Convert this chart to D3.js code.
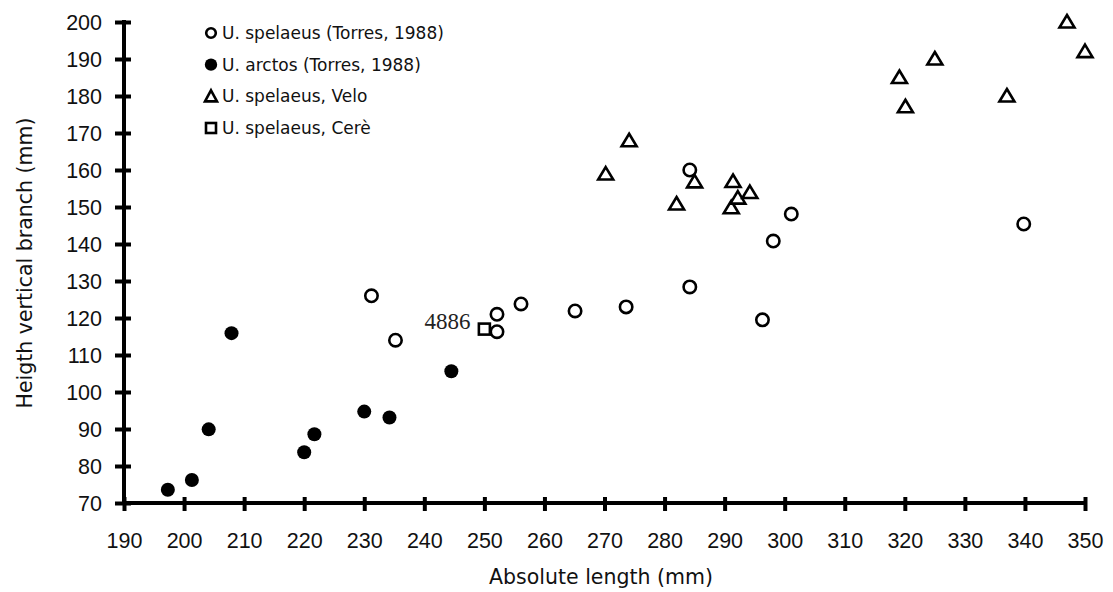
<!doctype html>
<html>
  <head>
    <script src="https://cdnjs.cloudflare.com/ajax/libs/d3/7.8.5/d3.min.js"></script>
    <style>
      body { margin: 0; background: #fff; }
      svg { font-family: "DejaVu Sans", Verdana, sans-serif; }
      .axis path, .axis line { stroke: #000; stroke-width: 4; }
      .axis text { font-size: 21.5px; fill: #111; }
      .title { font-size: 20.5px; fill: #111; }
      .legend text { font-size: 17px; fill: #111; }
      .open { fill: #fff; stroke: #000; stroke-width: 2.6; }
      .filled { fill: #000; }
    </style>
  </head>
  <body>
    <svg width="1113" height="592"></svg>
    <script>
      // U. spelaeus (Torres, 1988)
      var spelaeusTorres = [
        [231.2, 126], [235.2, 114], [252.1, 121], [252.1, 116.3], [256.1, 123.8],
        [265.1, 121.9], [273.6, 123], [284.2, 128.4], [284.2, 160], [296.3, 119.5],
        [298.1, 140.8], [301.1, 148.1], [339.8, 145.4]
      ];
      // U. arctos (Torres, 1988)
      var arctosTorres = [
        [197.3, 73.6], [201.3, 76.2], [204.1, 89.9], [207.9, 115.9], [220, 83.7],
        [221.7, 88.6], [230, 94.7], [234.2, 93.1], [244.5, 105.6]
      ];
      // U. spelaeus, Velo
      var spelaeusVelo = [
        [270.2, 158.9], [274.1, 167.9], [282, 150.8], [285, 156.8], [291.1, 149.8],
        [291.4, 156.9], [292.2, 152.4], [294.2, 153.9], [319.1, 185], [320.1, 177.1],
        [325, 190], [337, 180], [347, 200], [350, 192]
      ];
      // U. spelaeus, Cerè
      var spelaeusCere = [[250, 117]];
      var cereLabel = "4886";

      var legendLabels = ["U. spelaeus (Torres, 1988)", "U. arctos (Torres, 1988)", "U. spelaeus, Velo", "U. spelaeus, Cerè"];
      var xTicks = d3.range(190, 351, 10);
      var yTicks = d3.range(70, 201, 10);

      var svg = d3.select("svg");
      var x = d3.scaleLinear().domain([190, 350]).range([124, 1085]);
      var y = d3.scaleLinear().domain([70, 200]).range([503, 22]);

      var xAxis = d3.axisBottom(x).tickValues(xTicks).tickSize(0).tickPadding(30);
      var yAxis = d3.axisLeft(y).tickValues(yTicks).tickSize(0).tickPadding(22);

      var gx = svg.append("g").attr("class", "axis").attr("transform", "translate(0," + y(70) + ")").call(xAxis);
      var gy = svg.append("g").attr("class", "axis").attr("transform", "translate(" + x(190) + ",0)").call(yAxis);
      gx.select(".domain").attr("d", "M" + (x(190) - 2) + ",0H" + (x(350) + 2));
      gy.select(".domain").attr("d", "M0," + (y(200) - 2) + "V" + (y(70) + 2));
      gx.selectAll(".tick line").attr("y1", -6).attr("y2", 8).attr("stroke-width", 3.5);
      gy.selectAll(".tick line").attr("x1", -9).attr("x2", 7).attr("stroke-width", 3.5);
      gx.selectAll("text").attr("dy", "0.71em");
      gy.selectAll("text").attr("dy", "0.36em");

      svg.append("text").attr("class", "title")
          .attr("x", 601).attr("y", 584).attr("text-anchor", "middle")
          .text("Absolute length (mm)");
      svg.append("text").attr("class", "title")
          .attr("transform", "translate(32,263) rotate(-90)")
          .attr("text-anchor", "middle")
          .text("Heigth vertical branch (mm)");

      var tri = d => "M0,-7L7.5,5.5L-7.5,5.5Z";

      var plot = svg.append("g");
      plot.selectAll("circle.o").data(spelaeusTorres).enter().append("circle")
          .attr("class", "open").attr("r", 6.2)
          .attr("cx", d => x(d[0])).attr("cy", d => y(d[1]));
      plot.selectAll("circle.f").data(arctosTorres).enter().append("circle")
          .attr("class", "filled").attr("r", 7)
          .attr("cx", d => x(d[0])).attr("cy", d => y(d[1]));
      plot.selectAll("path.t").data(spelaeusVelo).enter().append("path")
          .attr("class", "open").attr("d", tri)
          .attr("transform", d => "translate(" + x(d[0]) + "," + y(d[1]) + ")");
      plot.selectAll("rect.s").data(spelaeusCere).enter().append("rect")
          .attr("class", "open").attr("width", 11).attr("height", 11)
          .attr("x", d => x(d[0]) - 5.5).attr("y", d => y(d[1]) - 5.5);
      plot.selectAll("text.lab").data(spelaeusCere).enter().append("text")
          .attr("x", d => x(d[0]) - 14).attr("y", d => y(d[1]) - 0.5)
          .attr("text-anchor", "end")
          .style("font-family", "'Liberation Serif', 'Times New Roman', serif")
          .style("font-size", "23px").attr("fill", "#222")
          .text(cereLabel);

      var legend = svg.append("g").attr("class", "legend");
      var ly = d3.scalePoint().domain(legendLabels).range([33, 128]);
      legendLabels.forEach(function (lab, i) {
        var g = legend.append("g").attr("transform", "translate(211," + ly(lab) + ")");
        if (i === 0) g.append("circle").attr("class", "open").attr("r", 4.8).attr("stroke-width", 2.2);
        if (i === 1) g.append("circle").attr("class", "filled").attr("r", 6.2);
        if (i === 2) g.append("path").attr("class", "open").attr("d", "M0,-6L6,5L-6,5Z").attr("stroke-width", 2.2);
        if (i === 3) g.append("rect").attr("class", "open").attr("x", -5).attr("y", -5).attr("width", 10).attr("height", 10).attr("stroke-width", 2.2);
        g.append("text").attr("x", 11).attr("dy", "0.36em").text(lab);
      });
    </script>
  </body>
</html>
